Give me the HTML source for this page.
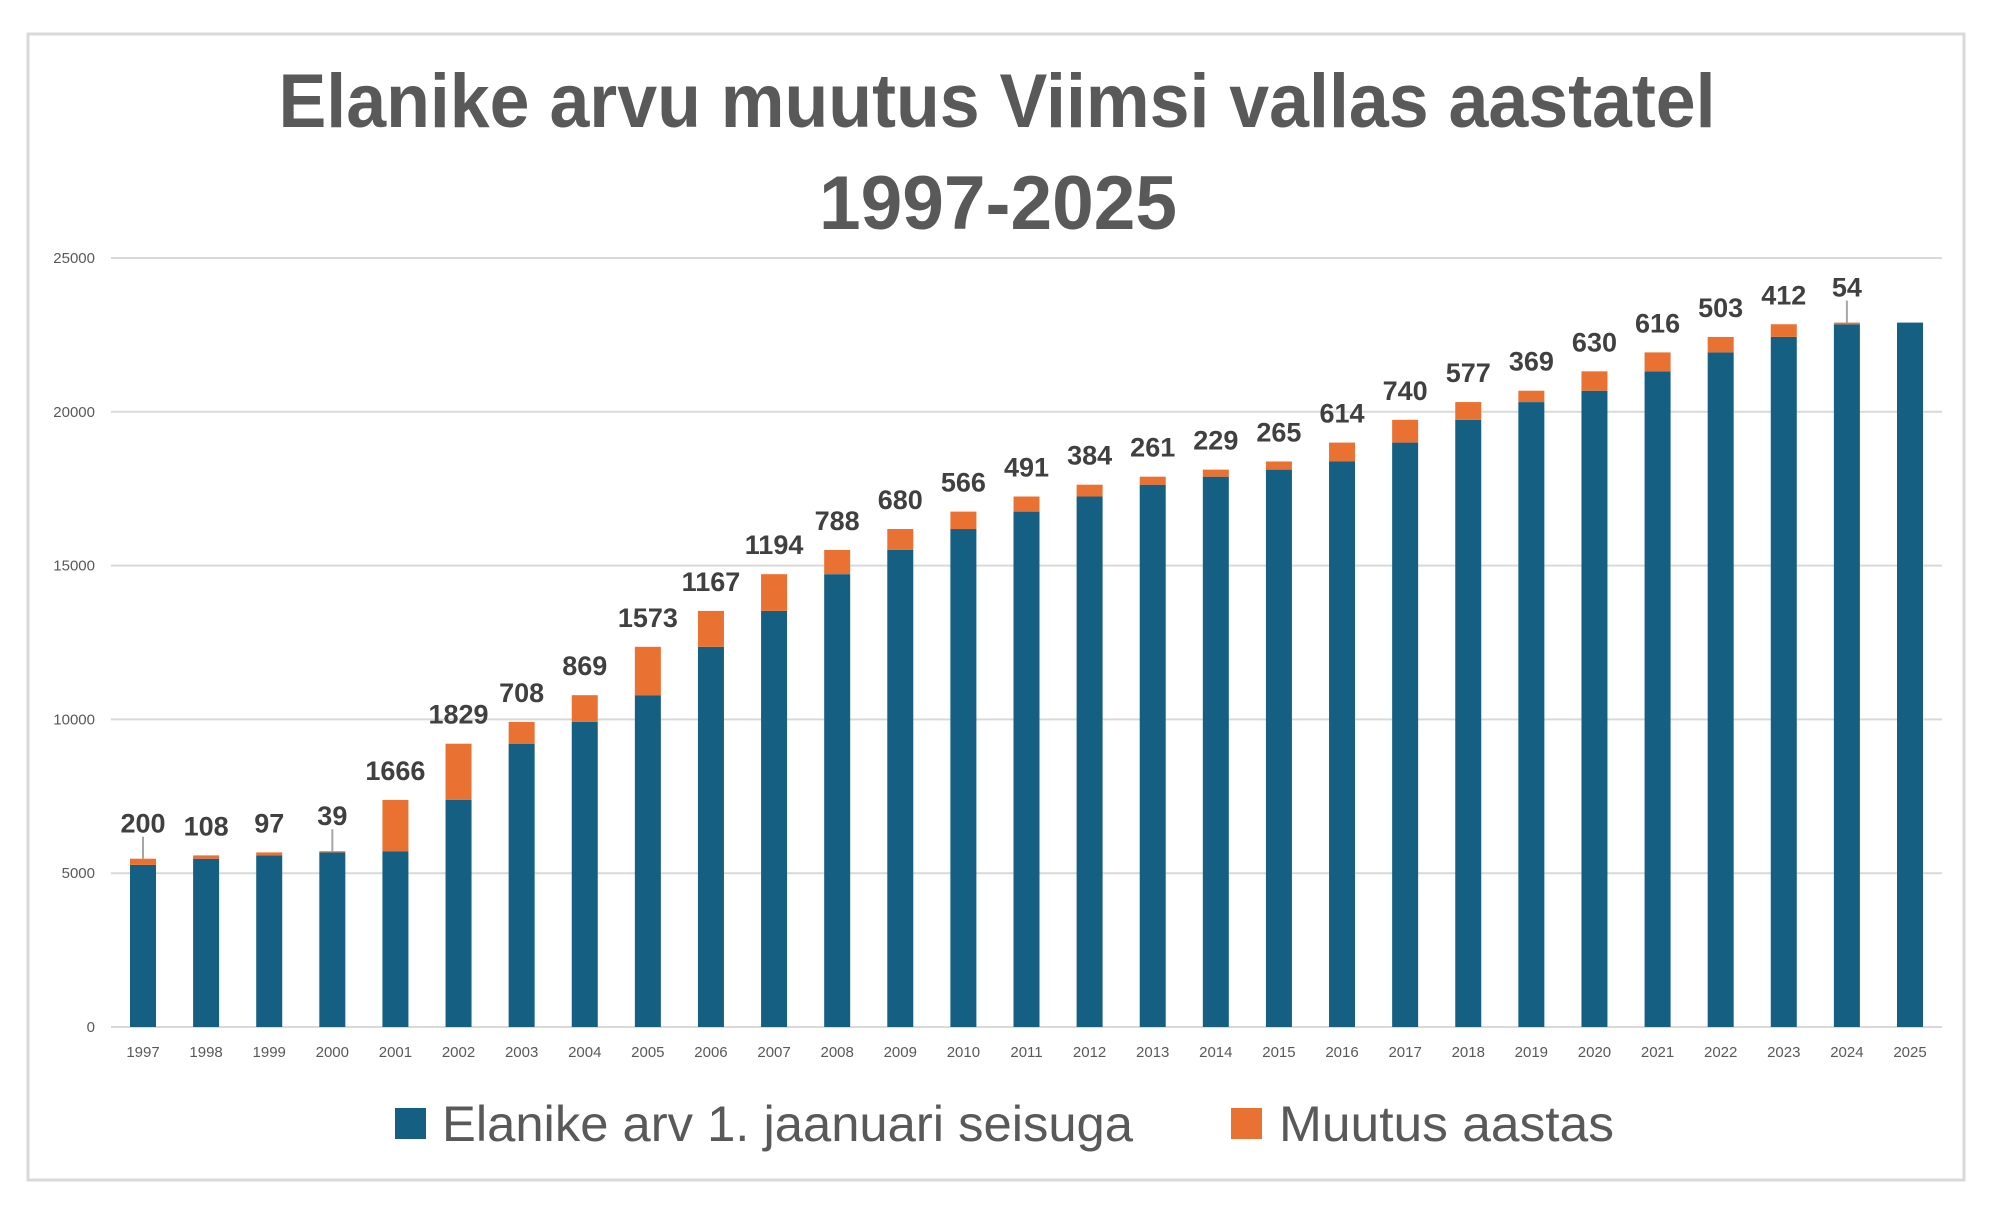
<!DOCTYPE html>
<html><head><meta charset="utf-8"><style>
html,body{margin:0;padding:0;background:#fff;}
svg{display:block;font-family:"Liberation Sans",sans-serif;}
</style></head><body>
<svg id="chart" width="1990" height="1213" viewBox="0 0 1990 1213">
<rect x="28" y="34" width="1936" height="1146" fill="#fff" stroke="#d9d9d9" stroke-width="3"/>
<g>
<text x="997" y="127" text-anchor="middle" font-size="76" font-weight="bold" fill="#595959" textLength="1437" lengthAdjust="spacingAndGlyphs">Elanike arvu muutus Viimsi vallas aastatel</text>
<text x="998" y="229" text-anchor="middle" font-size="76" font-weight="bold" fill="#595959" textLength="358" lengthAdjust="spacingAndGlyphs">1997-2025</text>
</g>
<g id="grid"></g>
<g id="yticks"></g>
<g id="bars"></g>
<g id="xticks"></g>
<g id="labels"></g>
<g>
<g>
<rect x="395" y="1108" width="31" height="31" fill="#156082"/>
<text x="442" y="1141" font-size="50" fill="#595959" textLength="691" lengthAdjust="spacingAndGlyphs">Elanike arv 1. jaanuari seisuga</text>
</g>
<g>
<rect x="1231" y="1108" width="31" height="31" fill="#E97132"/>
<text x="1279" y="1141" font-size="50" fill="#595959" textLength="335" lengthAdjust="spacingAndGlyphs">Muutus aastas</text>
</g>
</g>
</svg>
<script>
const years = [1997,1998,1999,2000,2001,2002,2003,2004,2005,2006,2007,2008,2009,2010,2011,2012,2013,2014,2015,2016,2017,2018,2019,2020,2021,2022,2023,2024,2025];
const population = [5271,5471,5579,5676,5715,7381,9210,9918,10787,12360,13527,14721,15509,16189,16755,17246,17630,17891,18120,18385,18999,19739,20316,20685,21315,21931,22434,22846,22900];
const change = [200,108,97,39,1666,1829,708,869,1573,1167,1194,788,680,566,491,384,261,229,265,614,740,577,369,630,616,503,412,54,null];
const yTicks = [0,5000,10000,15000,20000,25000];

const NS = "http://www.w3.org/2000/svg";
const plotL = 111, plotR = 1942, y0px = 1027, yTopPx = 258, yMax = 25000;
const step = (1910 - 143) / (years.length - 1);
const barW = 26;
function yScale(v){ return y0px - v / yMax * (y0px - yTopPx); }
function xScale(i){ return 143 + i * step; }
function mk(tag, attrs, parent){ const e = document.createElementNS(NS, tag); for (const k in attrs) e.setAttribute(k, attrs[k]); parent.appendChild(e); return e; }

const grid = document.getElementById('grid'), yt = document.getElementById('yticks');
yTicks.forEach(t => {
  const l = mk('line', {x1: plotL, x2: plotR, y1: yScale(t), y2: yScale(t), stroke: '#d9d9d9', 'stroke-width': 2}, grid);
  
  
  const tx = mk('text', {x: 95, y: yScale(t) + 5, 'text-anchor': 'end', 'font-size': 15, fill: '#595959'}, yt);
  tx.textContent = t;
  
  
});

const bars = document.getElementById('bars'), xt = document.getElementById('xticks'), lab = document.getElementById('labels');
years.forEach((yr, i) => {
  const cx = xScale(i);
  const b = mk('rect', {x: cx - barW/2, y: yScale(population[i]), width: barW, height: yScale(0) - yScale(population[i]), fill: '#156082'}, bars);
  
  
  let top = yScale(population[i]);
  if (change[i] !== null) {
    const c = mk('rect', {x: cx - barW/2, y: yScale(population[i] + change[i]), width: barW, height: yScale(population[i]) - yScale(population[i] + change[i]), fill: '#E97132'}, bars);
    
    
    top = yScale(population[i] + change[i]);
    const small = change[i] < 60 || i === 0;
    const ly = small ? top - 26 : top - 20;
    if (small) {
      const ll = mk('line', {x1: cx, x2: cx, y1: top, y2: ly + 4, stroke: '#a6a6a6', 'stroke-width': 2}, lab);
      
      
    }
    const t = mk('text', {x: cx, y: ly, 'text-anchor': 'middle', 'font-size': 27, 'font-weight': 'bold', fill: '#404040'}, lab);
    t.textContent = change[i];
    
    
  }
  const xl = mk('text', {x: cx, y: 1057, 'text-anchor': 'middle', 'font-size': 15, fill: '#595959'}, xt);
  xl.textContent = yr;
  
  
});
</script>
</body></html>
